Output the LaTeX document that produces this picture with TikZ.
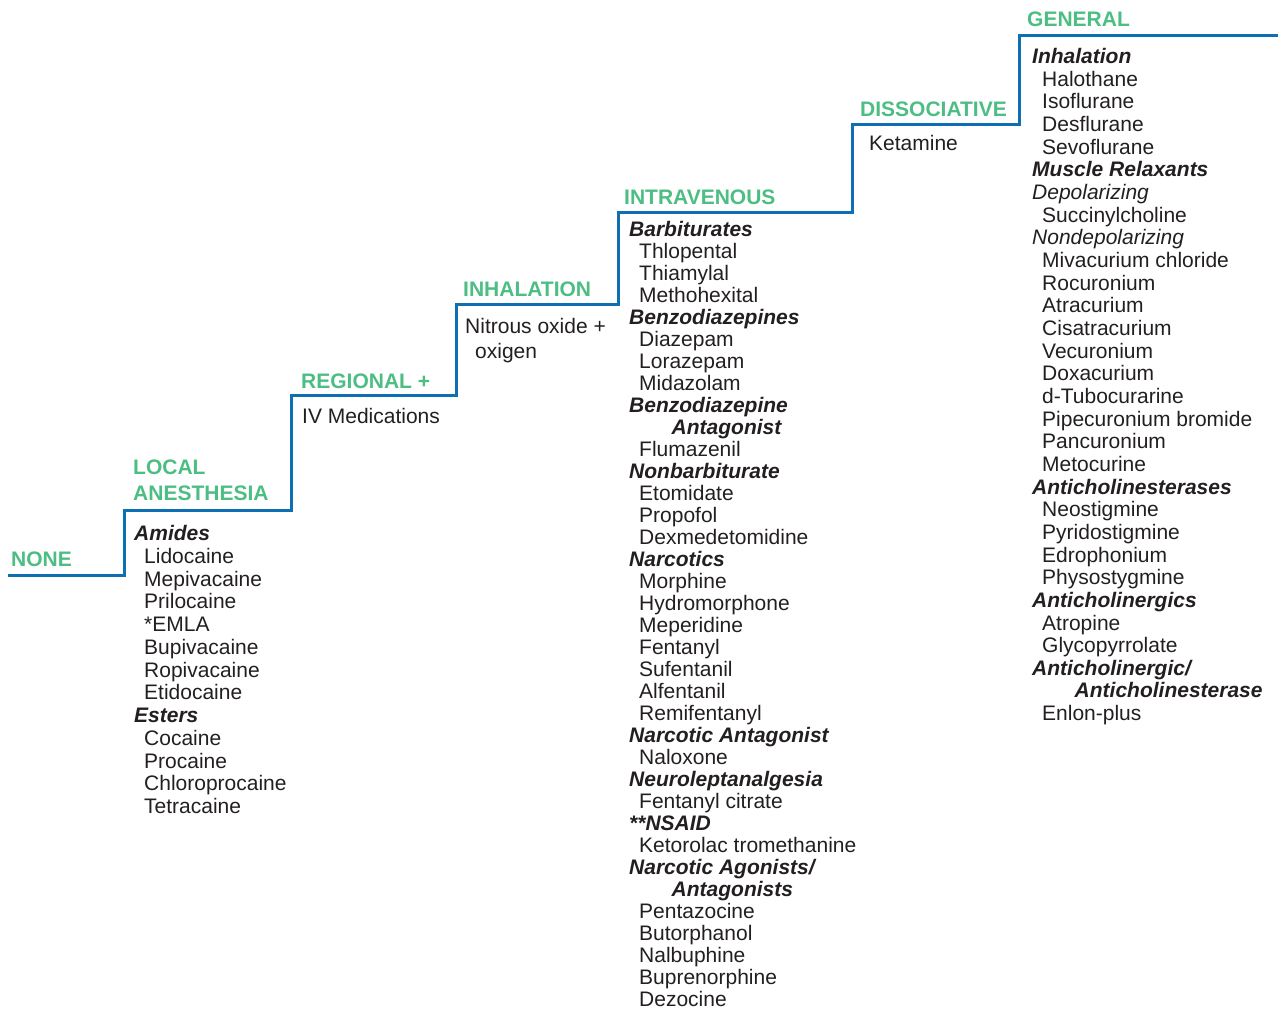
\documentclass[tikz,border=0pt]{standalone}
\usepackage{fontspec}
\setmainfont{Liberation Sans}
\definecolor{stairblue}{RGB}{14,112,178}
\definecolor{stepgreen}{RGB}{76,190,132}
\definecolor{ink}{RGB}{35,31,32}
\begin{document}
\begin{tikzpicture}[x=1pt,y=-1pt,
  every node/.style={inner sep=0pt, anchor=base west, text=ink, font=\fontsize{21}{25}\selectfont},
  levellabel/.style={text=stepgreen, font=\fontsize{21}{25}\selectfont\bfseries},
  drughead/.style={font=\fontsize{21}{25}\selectfont\bfseries\itshape},
  drugsub/.style={font=\fontsize{21}{25}\selectfont\itshape},
  drugitem/.style={xshift=10pt},
  drugcont/.style={drughead, xshift=42.5pt},
  stair/.style={draw=stairblue, line width=3pt, line join=miter}]
\useasboundingbox (0,0) rectangle (1278,1012);

% staircase
\coordinate (s0) at (8,575);
\coordinate (s1) at (124,575);
\coordinate (s2) at (124,510);
\coordinate (s3) at (291,510);
\coordinate (s4) at (291,395);
\coordinate (s5) at (456,395);
\coordinate (s6) at (456,304);
\coordinate (s7) at (618,304);
\coordinate (s8) at (618,212);
\coordinate (s9) at (852,212);
\coordinate (s10) at (852,124);
\coordinate (s11) at (1019,124);
\coordinate (s12) at (1019,35);
\coordinate (s13) at (1278,35);
\draw[stair] (s0) -- (s1) -- (s2) -- (s3) -- (s4) -- (s5) -- (s6) -- (s7) -- (s8) -- (s9) -- (s10) -- (s11) -- (s12) -- (s13);

% level labels
\node[levellabel] (none) at (11,566) {NONE};
\node[levellabel] (local1) at (133,474) {LOCAL};
\node[levellabel] (local2) at (133,500) {ANESTHESIA};
\node[levellabel] (regional) at (301,388) {REGIONAL +};
\node[levellabel] (inhal) at (463,296) {INHALATION};
\node[levellabel] (intrav) at (624,204) {INTRAVENOUS};
\node[levellabel] (dissoc) at (860,116) {DISSOCIATIVE};
\node[levellabel] (general) at (1027,26) {GENERAL};

% single entries
\node (ivmed) at (302,423.5) {IV Medications};
\node (nitrous) at (465,333) {Nitrous oxide +};
\node (oxigen) at (475,358) {oxigen};
\node (ketamine) at (869,150.5) {Ketamine};

% local anesthesia column
\foreach \s/\t [count=\i from 0] in {drughead/Amides, drugitem/Lidocaine, drugitem/Mepivacaine, drugitem/Prilocaine, drugitem/*EMLA, drugitem/Bupivacaine, drugitem/Ropivacaine, drugitem/Etidocaine, drughead/Esters, drugitem/Cocaine, drugitem/Procaine, drugitem/Chloroprocaine, drugitem/Tetracaine}
  \node[\s] (loc\i) at (134,{540.5+22.75*\i}) {\t};

% intravenous column
\foreach \s/\t [count=\i from 0] in {drughead/Barbiturates, drugitem/Thlopental, drugitem/Thiamylal, drugitem/Methohexital, drughead/Benzodiazepines, drugitem/Diazepam, drugitem/Lorazepam, drugitem/Midazolam, drughead/Benzodiazepine, drugcont/Antagonist, drugitem/Flumazenil, drughead/Nonbarbiturate, drugitem/Etomidate, drugitem/Propofol, drugitem/Dexmedetomidine, drughead/Narcotics, drugitem/Morphine, drugitem/Hydromorphone, drugitem/Meperidine, drugitem/Fentanyl, drugitem/Sufentanil, drugitem/Alfentanil, drugitem/Remifentanyl, drughead/Narcotic Antagonist, drugitem/Naloxone, drughead/Neuroleptanalgesia, drugitem/Fentanyl citrate, drughead/**NSAID, drugitem/Ketorolac tromethanine, drughead/{Narcotic Agonists/}, drugcont/Antagonists, drugitem/Pentazocine, drugitem/Butorphanol, drugitem/Nalbuphine, drugitem/Buprenorphine, drugitem/Dezocine}
  \node[\s] (iv\i) at (629,{236+22*\i}) {\t};

% general column
\foreach \s/\t [count=\i from 0] in {drughead/Inhalation, drugitem/Halothane, drugitem/Isoflurane, drugitem/Desflurane, drugitem/Sevoflurane, drughead/Muscle Relaxants, drugsub/Depolarizing, drugitem/Succinylcholine, drugsub/Nondepolarizing, drugitem/Mivacurium chloride, drugitem/Rocuronium, drugitem/Atracurium, drugitem/Cisatracurium, drugitem/Vecuronium, drugitem/Doxacurium, drugitem/d-Tubocurarine, drugitem/Pipecuronium bromide, drugitem/Pancuronium, drugitem/Metocurine, drughead/Anticholinesterases, drugitem/Neostigmine, drugitem/Pyridostigmine, drugitem/Edrophonium, drugitem/Physostygmine, drughead/Anticholinergics, drugitem/Atropine, drugitem/Glycopyrrolate, drughead/{Anticholinergic/}, drugcont/Anticholinesterase, drugitem/Enlon-plus}
  \node[\s] (gen\i) at (1032,{63.5+22.66*\i}) {\t};
\end{tikzpicture}
\end{document}
